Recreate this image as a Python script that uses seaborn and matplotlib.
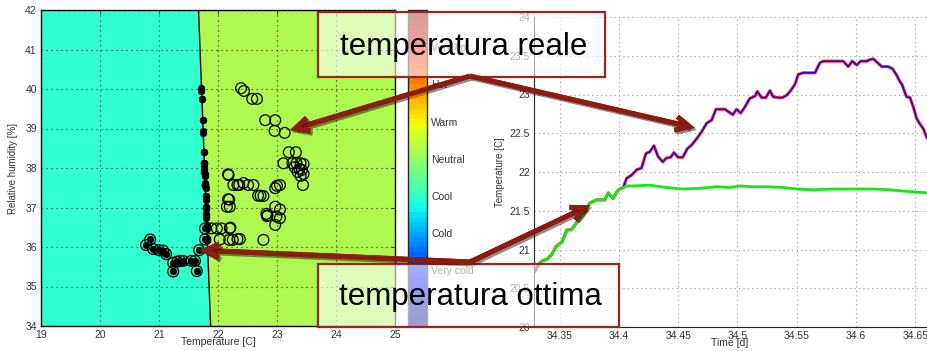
import numpy as np
import pandas as pd
import matplotlib
matplotlib.use("Agg")
import matplotlib.pyplot as plt
import matplotlib.patheffects as pe
from matplotlib.patches import Rectangle
from matplotlib.cm import ScalarMappable
from matplotlib.colors import Normalize
import seaborn as sns

# ---------------- data ----------------
# comfort boundary (optimal temperature vs relative humidity)
boundary_rh = [34.0, 42.0]
boundary_t = [21.875, 21.67]

# measured points: relative humidity, measured temperature, optimal temperature
rh_pts = [40.02, 39.95, 39.75, 39.75, 39.21, 39.21, 38.94, 38.89, 38.40, 38.40,
          38.12, 38.12, 38.12, 38.12, 38.10, 38.02, 37.98, 37.95, 37.90, 37.85,
          37.80, 37.57, 37.84, 37.82, 37.57, 37.57, 37.57, 37.62, 37.57, 37.57,
          37.49, 37.55, 37.57, 37.30, 37.30, 37.29, 37.21, 37.20, 37.02, 37.02,
          37.02, 36.95, 36.84, 36.80, 36.78, 36.77, 36.73, 36.56, 36.47, 36.47,
          36.47, 36.47, 36.49, 36.19, 36.18, 36.18, 36.20, 36.20, 36.18,
          36.05, 36.19, 35.95, 35.92, 35.91, 35.82, 35.60, 35.38, 35.63, 35.65,
          35.65, 35.65, 35.65, 35.39, 35.92, 36.19, 36.47]
t_real = [22.39, 22.44, 22.58, 22.66, 22.80, 22.97, 22.96, 23.13, 23.20, 23.32,
          23.11, 23.26, 23.33, 23.40, 23.45, 23.30, 23.38, 23.42, 23.35, 23.45,
          23.40, 23.44, 22.17, 22.18, 22.26, 22.33, 22.36, 22.43, 22.51, 22.60,
          22.97, 23.00, 23.05, 22.68, 22.72, 22.77, 22.17, 22.19, 22.15, 22.20,
          22.97, 23.05, 22.82, 22.84, 22.83, 22.99, 23.05, 22.97, 21.89, 21.98,
          22.06, 22.20, 22.21, 22.03, 22.19, 22.25, 22.33, 22.37, 22.77,
          20.78, 20.85, 20.90, 21.00, 21.07, 21.12, 21.24, 21.24, 21.31, 21.36,
          21.41, 21.55, 21.61, 21.64, 21.68, 21.78, 21.78]
t_opt = [21.72, 21.72, 21.73, 21.73, 21.74, 21.74, 21.75, 21.75, 21.76, 21.76,
         21.77, 21.77, 21.77, 21.77, 21.77, 21.77, 21.77, 21.77, 21.77, 21.78,
         21.78, 21.78, 21.78, 21.78, 21.78, 21.78, 21.78, 21.78, 21.78, 21.78,
         21.79, 21.78, 21.78, 21.79, 21.79, 21.79, 21.79, 21.79, 21.80, 21.80,
         21.80, 21.80, 21.80, 21.80, 21.80, 21.80, 21.80, 21.81, 21.81, 21.81,
         21.81, 21.81, 21.81, 21.82, 21.82, 21.82, 21.82, 21.82, 21.82,
         20.78, 20.85, 20.90, 21.00, 21.07, 21.12, 21.24, 21.24, 21.31, 21.36,
         21.41, 21.55, 21.61, 21.64, 21.68, 21.78, 21.78]

# comfort scale of the colour bar
comfort_levels = [-3, -2, -1, 0, 1, 2, 3]
comfort_labels = ["Very cold", "Cold", "Cool", "Neutral", "Warm", "Hot", "Very hot"]
zone_colors = ["#31FFD0", "#AEF84F"]

# time series: optimal temperature
time_opt = [34.3327, 34.336, 34.339, 34.343, 34.347, 34.352, 34.356, 34.360, 34.364,
            34.370, 34.3755, 34.381, 34.388, 34.391, 34.395, 34.3994, 34.4036, 34.4065,
            34.412, 34.426, 34.440, 34.4543, 34.4684, 34.4825, 34.4937, 34.5021, 34.5133,
            34.5246, 34.5387, 34.55, 34.564, 34.5809, 34.5978, 34.6146, 34.6287, 34.6428,
            34.6608]
temp_opt = [20.82, 20.86, 20.87, 20.93, 21.04, 21.10, 21.25, 21.26, 21.34,
            21.45, 21.60, 21.64, 21.64, 21.73, 21.66, 21.77, 21.80, 21.82,
            21.82, 21.83, 21.80, 21.78, 21.79, 21.81, 21.80, 21.82, 21.81,
            21.81, 21.80, 21.78, 21.77, 21.78, 21.78, 21.78, 21.77, 21.75,
            21.73]

# time series: measured temperature
time_real = [34.329, 34.3327, 34.336, 34.339, 34.343, 34.347, 34.352, 34.356, 34.360,
             34.364, 34.370, 34.3755, 34.381, 34.388, 34.391, 34.395, 34.3994, 34.4036,
             34.4065, 34.4107, 34.415, 34.419, 34.4228, 34.426, 34.4295, 34.433, 34.437,
             34.440, 34.4436, 34.4464, 34.450, 34.4538, 34.4577, 34.4614, 34.4656, 34.4698,
             34.474, 34.4782, 34.4819, 34.4852, 34.4895, 34.4922, 34.4960, 34.4993, 34.5027,
             34.5063, 34.5105, 34.5148, 34.5167, 34.5204, 34.524, 34.5274, 34.5302, 34.5344,
             34.538, 34.5415, 34.5449, 34.5485, 34.5513, 34.5555, 34.5612, 34.5654, 34.5696,
             34.5724, 34.578, 34.5837, 34.5893, 34.5935, 34.5969, 34.6006, 34.604, 34.609,
             34.6118, 34.6146, 34.6175, 34.6217, 34.6273, 34.631, 34.6343, 34.6363, 34.6391,
             34.6414, 34.6428, 34.6456, 34.6484, 34.6512, 34.654, 34.6568, 34.6596, 34.6608]
temp_real = [20.71, 20.82, 20.86, 20.87, 20.93, 21.04, 21.10, 21.25, 21.26,
             21.34, 21.45, 21.60, 21.64, 21.64, 21.73, 21.66, 21.77, 21.80,
             21.92, 21.96, 22.03, 22.05, 22.24, 22.26, 22.34, 22.20, 22.13,
             22.18, 22.19, 22.25, 22.19, 22.19, 22.30, 22.35, 22.43, 22.52,
             22.63, 22.67, 22.81, 22.81, 22.81, 22.78, 22.74, 22.81, 22.76,
             22.84, 22.95, 22.98, 23.04, 22.96, 22.96, 23.05, 22.97, 22.96,
             22.96, 22.99, 23.05, 23.13, 23.26, 23.28, 23.28, 23.28, 23.41,
             23.43, 23.43, 23.43, 23.43, 23.36, 23.43, 23.38, 23.43, 23.43,
             23.45, 23.46, 23.42, 23.36, 23.36, 23.33, 23.25, 23.19, 23.12,
             23.02, 22.97, 22.96, 22.84, 22.69, 22.62, 22.56, 22.45, 22.42]

# ---------------- style ----------------
sns.set_style("white")
plt.rcParams["font.family"] = ["Liberation Sans", "DejaVu Sans"]

W, H = 928, 351
fig = plt.figure(figsize=(W / 100, H / 100), dpi=100)


def fx(px):
    return px / W


def fy(py):
    return 1 - py / H


tick_color = "#333333"

# ---------------- left: psychrometric comfort chart ----------------
ax1 = fig.add_axes([fx(41), fy(326), fx(354), (326 - 10) / H])
ax1.set_xlim(19, 25)
ax1.set_ylim(34, 42)
ax1.fill_betweenx(boundary_rh, [19, 19], boundary_t, color=zone_colors[0], lw=0, zorder=0)
ax1.fill_betweenx(boundary_rh, boundary_t, [25, 25], color=zone_colors[1], lw=0, zorder=0)
ax1.plot(boundary_t, boundary_rh, color="black", lw=1.0, zorder=2)

pts = pd.DataFrame({"rh": rh_pts, "real": t_real, "opt": t_opt})
sns.scatterplot(data=pts, x="real", y="rh", ax=ax1, s=60, marker="o",
                facecolor="none", edgecolor="black", linewidth=0.9, zorder=4)
sns.scatterplot(data=pts, x="opt", y="rh", ax=ax1, s=24, marker="o",
                color="black", edgecolor="black", linewidth=0.3, zorder=5)

ax1.set_xticks(range(19, 26))
ax1.set_yticks(range(34, 43))
ax1.grid(True, linestyle=(0, (1, 3.5)), color="#2a2a2a", lw=0.8)
ax1.set_axisbelow(False)
for sp in ax1.spines.values():
    sp.set_visible(True)
    sp.set_color("black")
    sp.set_linewidth(1.0)
ax1.tick_params(direction="in", length=3, width=0.6, labelsize=7.5,
                labelcolor=tick_color, top=True, right=True, pad=3)
ax1.set_xlabel("Temperature [C]", fontsize=7.5, color=tick_color)
ax1.set_ylabel("Relative humidity [%]", fontsize=7, color=tick_color)
ax1.xaxis.set_label_coords(0.5, -0.035)
ax1.yaxis.set_label_coords(-0.066, 0.5)

# colour bar
cax = fig.add_axes([fx(408), fy(326), fx(19), (326 - 10) / H])
sm = ScalarMappable(norm=Normalize(vmin=-4.5, vmax=4.0), cmap=plt.get_cmap("jet", 64))
cb = fig.colorbar(sm, cax=cax, ticks=comfort_levels)
cb.set_ticklabels(comfort_labels)
cb.outline.set_linewidth(1.0)
cax.tick_params(direction="in", length=3, width=0.6, labelsize=7.5,
                labelcolor=tick_color, left=True, right=True, pad=3)

# ---------------- right: time series ----------------
ax2 = fig.add_axes([fx(534), fy(327), fx(W - 534), (327 - 17) / H])
sns.lineplot(x=time_real, y=temp_real, ax=ax2, color="#FF3A3A", lw=2.3, zorder=2)
sns.lineplot(x=time_real, y=temp_real, ax=ax2, color="#2000D8", lw=1.1, zorder=3)
sns.lineplot(x=time_opt, y=temp_opt, ax=ax2, color="#14E614", lw=2.0, zorder=4)
ax2.set_xlim(34.3283, 34.6608)
ax2.set_ylim(20, 24)
ax2.set_xticks([34.35, 34.4, 34.45, 34.5, 34.55, 34.6, 34.65])
ax2.set_xticklabels(["34.35", "34.4", "34.45", "34.5", "34.55", "34.6", "34.65"])
ax2.set_yticks(np.arange(20, 24.01, 0.5))
ax2.set_yticklabels(["20", "20.5", "21", "21.5", "22", "22.5", "23", "23.5", "24"])
ax2.grid(True, linestyle=(0, (1, 3)), color="#9a9a9a", lw=0.8)
ax2.spines["top"].set_visible(False)
ax2.spines["right"].set_visible(False)
ax2.spines["left"].set_color("#222222")
ax2.spines["bottom"].set_color("#222222")
ax2.tick_params(direction="in", length=3, width=0.6, labelsize=7.5,
                labelcolor=tick_color, pad=3)
ax2.set_xlabel("Time [d]", fontsize=7.5, color=tick_color)
ax2.set_ylabel("Temperature [C]", fontsize=7, color=tick_color)
ax2.xaxis.set_label_coords(0.497, -0.035)
ax2.yaxis.set_label_coords(-0.074, 0.5)

# ---------------- callouts ----------------
box_edge = "#9A2418"
arrow_color = "#8E1B0F"
for (x0, y0, x1, y1) in [(318, 12, 605, 77), (318, 264, 619, 327)]:
    fig.add_artist(Rectangle((fx(x0), fy(y1)), fx(x1 - x0), (y1 - y0) / H,
                             transform=fig.transFigure, facecolor="white", alpha=0.62,
                             edgecolor="none", zorder=10))
    fig.add_artist(Rectangle((fx(x0), fy(y1)), fx(x1 - x0), (y1 - y0) / H,
                             transform=fig.transFigure, facecolor="none",
                             edgecolor=box_edge, lw=1.6, zorder=11))

callout_font = ["Liberation Sans", "DejaVu Sans"]
fig.text(fx(464), fy(47), "temperatura reale", ha="center", va="center",
         fontsize=22.5, family=callout_font, color="black", zorder=12)
fig.text(fx(470), fy(297), "temperatura ottima", ha="center", va="center",
         fontsize=22.5, family=callout_font, color="black", zorder=12)

arrow_props = dict(arrowstyle="->,head_length=1.0,head_width=0.5", color=arrow_color,
                   lw=3.6, shrinkA=0, shrinkB=0, joinstyle="miter", capstyle="butt",
                   path_effects=[pe.SimpleLineShadow(offset=(1.5, -1.5), shadow_color="k",
                                                     alpha=0.25), pe.Normal()])
targets = [(ax1, (23.22, 38.96), (470, 76)), (ax2, (34.464, 22.57), (470, 76)),
           (ax1, (21.69, 35.92), (470, 262)), (ax2, (34.3755, 21.57), (470, 262))]
for ax, tip, start in targets:
    ann = ax.annotate("", xy=tip, xycoords="data",
                      xytext=(fx(start[0]), fy(start[1])), textcoords="figure fraction",
                      arrowprops=arrow_props, annotation_clip=False)
    ann.set_zorder(13)
    fig.add_artist(ann)

fig.savefig("out.png", dpi=100)
